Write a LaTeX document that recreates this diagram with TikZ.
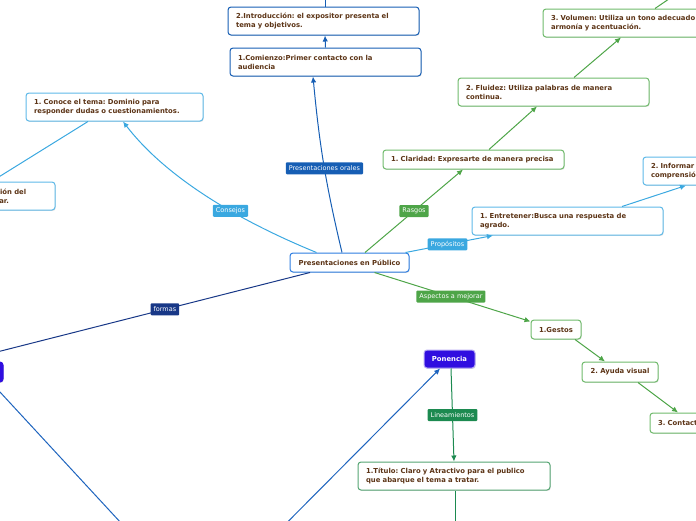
\documentclass[tikz,border=0pt]{standalone}
\usepackage{fontspec}
\setmainfont{DejaVu Sans}
\frenchspacing
\usepackage{xcolor}
\usepackage{tikz}
\usetikzlibrary{arrows.meta}
\usetikzlibrary{shadows}
\definecolor{texto}{RGB}{92,52,22}
\definecolor{azul}{RGB}{45,125,225}
\definecolor{azuloscuro}{RGB}{22,94,180}
\definecolor{celeste}{RGB}{58,168,224}
\definecolor{celesteclaro}{RGB}{95,185,232}
\definecolor{verde}{RGB}{78,165,72}
\definecolor{verdeclaro}{RGB}{112,186,108}
\definecolor{marino}{RGB}{24,56,135}
\definecolor{morado}{RGB}{48,14,224}
\definecolor{azulmedio}{RGB}{30,100,190}
\definecolor{verdeteal}{RGB}{28,138,80}
\definecolor{verdetitulo}{RGB}{85,165,115}
\tikzset{
    block/.style={
           rectangle,
           rounded corners=3pt,
           draw, line width=1pt,
           fill=white,
           drop shadow={shadow xshift=0.7pt, shadow yshift=-0.9pt, opacity=0.25},
           text=texto,
           font=\bfseries\fontsize{6.85}{9}\selectfont,
           inner xsep=8pt, inner ysep=3pt,
           align=left,
           },
     etiqueta/.style={
           rectangle,
           rounded corners=1pt,
           text=white,
           font=\fontsize{6.5}{7}\selectfont,
           inner xsep=3pt, inner ysep=0pt,
           minimum height=12pt,
           },
     linea/.style={line width=1pt},
     flecha/.style={-{Latex[length=6pt,width=5.5pt]}},
}

\begin{document}
\begin{tikzpicture}[x=1pt,y=-1pt]
	\useasboundingbox (0,0) rectangle (696,520);
	\clip (0,0) rectangle (696,520);

	\node[block, draw=azul, align=center, minimum width=119pt, minimum height=19pt, inner ysep=0pt] (centro) at (349.5,262.5) {Presentaciones en Público};

	%presentaciones orales
	\node[block, draw=azuloscuro, text width=175pt, minimum height=28pt] (o1) at (325.5,62) {1.Comienzo:Primer contacto con la\\audiencia};
	\node[block, draw=azuloscuro, text width=175pt, minimum height=28pt] (o2) at (323.5,21) {2.Introducción: el expositor presenta el\\tema y objetivos.};
	\coordinate (o3) at (325,-20);

	%consejos
	\node[block, draw=celesteclaro, text width=161pt, minimum height=28pt] (k1) at (114.5,107) {1. Conoce el tema: Dominio para\\responder dudas o cuestionamientos.};
	\node[block, draw=celesteclaro, text width=55pt, inner xsep=4pt, minimum height=28pt] (k2) at (23.5,196) {ción del\\tar.};

	%rasgos
	\node[block, draw=verdeclaro, text width=165pt, minimum height=19pt, inner ysep=0pt] (r1) at (473.5,159.5) {1. Claridad: Expresarte de manera precisa};
	\node[block, draw=verdeclaro, text width=175pt, minimum height=28pt] (r2) at (553.5,92) {2. Fluidez: Utiliza palabras de manera\\continua.};
	\node[block, draw=verdeclaro, text width=184pt, minimum height=28pt] (r3) at (643,23) {3. Volumen: Utiliza un tono adecuado\\armonía y acentuación.};
	\coordinate (r4) at (685,-12);

	%propositos
	\node[block, draw=celesteclaro, text width=175pt, minimum height=28pt] (p1) at (567.5,221) {1. Entretener:Busca una respuesta de\\agrado.};
	\node[block, draw=celesteclaro, text width=104pt, minimum height=28pt] (p2) at (703,171) {2. Informar\\comprensión};

	%aspectos a mejorar
	\node[block, draw=verdeclaro, align=center, minimum width=50pt, minimum height=19pt, inner xsep=2pt, inner ysep=0pt] (a1) at (556,329.5) {1.Gestos};
	\node[block, draw=verdeclaro, align=center, minimum width=76pt, minimum height=20pt, inner xsep=2pt, inner ysep=0pt] (a2) at (620,372) {2. Ayuda visual};
	\node[block, draw=verdeclaro, text width=64pt, minimum height=20pt, inner ysep=0pt] (a3) at (690,423) {3. Contacto};

	%formas
	\node[block, fill=morado, draw=morado, minimum width=43pt, minimum height=20pt] (f1) at (-18.5,372) {};
	\coordinate (f2a) at (183,590);
	\coordinate (f2b) at (220,590);
	\node[block, fill=morado, draw=morado!35, text=white, align=center, minimum width=51pt, minimum height=18pt, inner xsep=2pt, inner ysep=0pt] (f3) at (449.5,359) {Ponencia};
	\node[block, draw=verdetitulo, text width=176pt, minimum height=28pt] (f4) at (454,476) {1.Título: Claro y Atractivo para el publico\\que abarque el tema a tratar.};
	\coordinate (f5) at (455,527);

	%EDGES
	\path[flecha, linea, color=azuloscuro]
		([xshift=-7.5pt]centro.north) edge[bend left=4] node[etiqueta, fill=azuloscuro, pos=0.48] {Presentaciones orales} ([xshift=-12.5pt]o1.south)
		(o1.north) edge ([xshift=1.5pt]o2.south)
		([xshift=1.5pt]o2.north) edge (o3);

	\draw[flecha, linea, color=celeste] ([xshift=-33pt]centro.north) .. controls (225,215) and (161,171) .. ([xshift=8.5pt]k1.south)
		node[etiqueta, fill=celeste, pos=0.35] {Consejos};
	\path[flecha, linea, color=celeste]
		([xshift=-26.5pt]k1.south) edge (k2.north west);

	\path[flecha, linea, color=verde]
		([xshift=15.5pt]centro.north) edge node[etiqueta, fill=verde, pos=0.5] {Rasgos} ([xshift=-10.5pt]r1.south)
		([xshift=15.5pt]r1.north) edge ([xshift=-16.5pt]r2.south)
		([xshift=20.5pt]r2.north) edge ([xshift=-22pt]r3.south)
		([xshift=12pt]r3.north) edge (r4);

	\path[flecha, linea, color=celeste]
		([xshift=-4pt]centro.north east) edge node[etiqueta, fill=celeste, pos=0.48] {Propósitos} ([xshift=-74.5pt]p1.south)
		([xshift=54.5pt]p1.north) edge ([xshift=-17pt]p2.south);

	\path[flecha, linea, color=verde]
		([xshift=25pt]centro.south) edge node[etiqueta, fill=verde, pos=0.49] {Aspectos a mejorar} ([yshift=-2pt]a1.north west)
		([xshift=19pt]a1.south) edge ([xshift=-15pt]a2.north)
		([xshift=18pt]a2.south) edge ([xshift=-12pt]a3.north);

	\path[-, linea, color=marino]
		([xshift=-39.5pt]centro.south) edge node[etiqueta, fill=marino, pos=0.414] {formas} (f1.north west);
	\path[flecha, linea, color=azulmedio]
		(f1) edge (f2a)
		(f2b) edge (f3);
	\path[flecha, linea, color=verdeteal]
		([xshift=1.5pt]f3.south) edge node[etiqueta, fill=verdeteal, pos=0.5] {Lineamientos} (f4.north)
		([xshift=1pt]f4.south) edge (f5);

\end{tikzpicture}
\end{document}
